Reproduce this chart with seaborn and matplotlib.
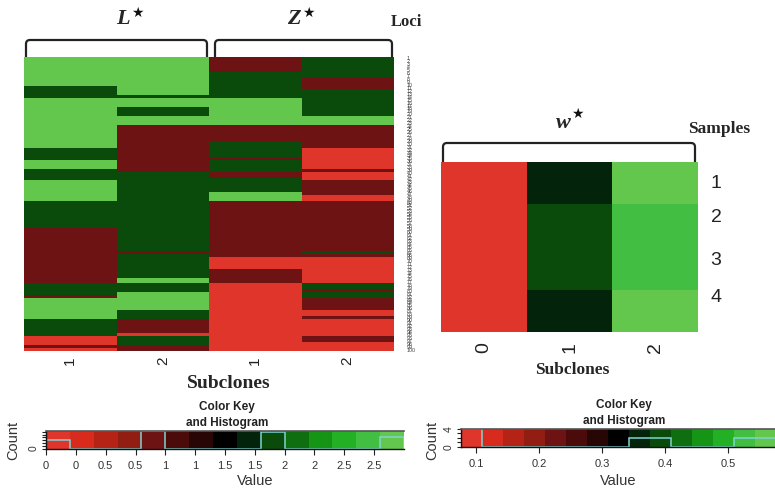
import numpy as np
import matplotlib
matplotlib.use("Agg")
import matplotlib.pyplot as plt
from matplotlib.colors import ListedColormap
from matplotlib.path import Path
from matplotlib.patches import PathPatch
import seaborn as sns

# ---- data -----------------------------------------------------------------
# Copy-number states per locus (top to bottom), stored as runs: states / lengths
L1_states = [3, 2, 3, 2, 3, 2, 3, 2, 1, 2, 1, 3, 2, 0, 1, 0]
L1_lengths = [10, 4, 17, 4, 3, 4, 7, 9, 19, 4, 1, 7, 6, 3, 1, 1]
L2_states = [3, 2, 3, 2, 3, 1, 2, 1, 2, 3, 2, 3, 2, 1, 0, 2, 1]
L2_lengths = [13, 1, 3, 3, 3, 16, 27, 1, 8, 2, 3, 6, 3, 5, 1, 3, 2]
Z1_states = [1, 2, 3, 1, 2, 1, 2, 1, 2, 3, 1, 0, 1, 0]
Z1_lengths = [5, 9, 9, 6, 5, 1, 4, 2, 5, 3, 19, 4, 5, 23]
Z2_states = [2, 1, 2, 3, 1, 0, 1, 0, 1, 0, 1, 2, 1, 0, 2, 1, 2, 1, 0, 1, 0, 1, 0]
Z2_lengths = [7, 4, 9, 3, 8, 7, 1, 3, 5, 2, 17, 1, 1, 9, 2, 1, 2, 4, 2, 1, 6, 2, 3]

loci_columns = ["1", "2", "1", "2"]
loci_labels = [str(i) for i in range(1, 101)]

# Subclone proportions per sample
w_subclones = ["0", "1", "2"]
w_samples = ["1", "2", "3", "4"]
w0 = [0.10, 0.10, 0.10, 0.10]
w1 = [0.35, 0.38, 0.38, 0.35]
w2 = [0.55, 0.52, 0.52, 0.55]

# 15-step red-black-green key palette
key_colors = ["#E0352A", "#D92A1E", "#B52317", "#921D12", "#6E1313",
              "#4B0B0B", "#290606", "#000000", "#03230A", "#0A4A0A",
              "#0F6F10", "#159416", "#23B024", "#42BF42", "#62C74C"]
loci_breaks = np.round(np.linspace(0.0, 3.0, 16), 10)
w_breaks = np.linspace(0.076, 0.576, 16)

loci_key_ticks = [0, 0.25, 0.5, 0.75, 1.0, 1.25, 1.5, 1.75, 2.0, 2.25, 2.5, 2.75]
loci_key_labels = ["0", "0", "0.5", "0.5", "1", "1", "1.5", "1.5", "2", "2", "2.5", "2.5"]
w_key_ticks = [0.1, 0.2, 0.3, 0.4, 0.5]
w_key_labels = ["0.1", "0.2", "0.3", "0.4", "0.5"]

# ---- figure ---------------------------------------------------------------
W, H = 775, 491
sns.set_theme(style="white")
plt.rcParams["font.family"] = ["Liberation Sans", "DejaVu Sans"]
fig = plt.figure(figsize=(W / 100, H / 100), dpi=100)
fig.patch.set_facecolor("white")

SERIF = ["Liberation Serif", "DejaVu Serif"]
STAR = ["DejaVu Sans"]


def rect(x0, y0, x1, y1):
    """Axes rectangle from pixel box (top-left origin)."""
    return [x0 / W, 1 - y1 / H, (x1 - x0) / W, (y1 - y0) / H]


def ftext(x, y, s, **kw):
    fig.text(x / W, 1 - y / H, s, ha="center", va="center", **kw)


def brace(x0, x1, ytop, ybot, r=4):
    pts = [(x0, ybot), (x0, ytop + r), (x0, ytop), (x0 + r, ytop),
           (x1 - r, ytop), (x1, ytop), (x1, ytop + r), (x1, ybot)]
    codes = [Path.MOVETO, Path.LINETO, Path.CURVE3, Path.CURVE3,
             Path.LINETO, Path.CURVE3, Path.CURVE3, Path.LINETO]
    verts = [(x / W, 1 - y / H) for x, y in pts]
    fig.add_artist(PathPatch(Path(verts, codes), fill=False, lw=1.6,
                             edgecolor="#222222", transform=fig.transFigure))


def bin_codes(values, breaks):
    # right-closed bins, as in R's hist()
    idx = np.searchsorted(breaks, np.asarray(values, float), side="left") - 1
    return np.clip(idx, 0, len(breaks) - 2)


cmap = ListedColormap(key_colors)

# ---- loci heatmap ---------------------------------------------------------
loci = np.column_stack([
    np.repeat(L1_states, L1_lengths),
    np.repeat(L2_states, L2_lengths),
    np.repeat(Z1_states, Z1_lengths),
    np.repeat(Z2_states, Z2_lengths),
])
loci_codes = bin_codes(loci, loci_breaks)

ax1 = fig.add_axes(rect(24, 57, 394, 351))
sns.heatmap(loci_codes, ax=ax1, cmap=cmap, vmin=-0.5, vmax=14.5, cbar=False,
            xticklabels=loci_columns, yticklabels=loci_labels)
ax1.yaxis.tick_right()
ax1.tick_params(axis="y", length=0, pad=9, labelsize=3.8, labelcolor="#444444",
                labelrotation=0)
ax1.tick_params(axis="x", length=0, pad=4, labelsize=11, labelrotation=90,
                labelcolor="#222222")
ax1.set_xlabel("")
ax1.set_ylabel("")

# ---- w heatmap ------------------------------------------------------------
w = np.column_stack([w0, w1, w2])
w_codes = bin_codes(w, w_breaks)
ax2 = fig.add_axes(rect(441, 162, 698, 332))
sns.heatmap(w_codes, ax=ax2, cmap=cmap, vmin=-0.5, vmax=14.5, cbar=False,
            xticklabels=w_subclones, yticklabels=w_samples)
ax2.yaxis.tick_right()
ax2.set_yticks([0.45, 1.25, 2.28, 3.15])
ax2.set_yticklabels(w_samples)
ax2.tick_params(axis="y", length=0, pad=9, labelsize=14, labelrotation=0,
                labelcolor="#222222")
ax2.tick_params(axis="x", length=0, pad=7, labelsize=14, labelrotation=90,
                labelcolor="#222222")
ax2.set_xlabel("")
ax2.set_ylabel("")

# ---- titles and braces ----------------------------------------------------
brace(26, 207, 40, 57)
brace(215, 392, 40, 57)
brace(443, 695, 143, 162)

ftext(123, 19, "L", family=SERIF, style="italic", weight="bold", fontsize=16)
ftext(137, 13, "★", family=STAR, fontsize=10, color="#111111")
ftext(294, 19, "Z", family=SERIF, style="italic", weight="bold", fontsize=16)
ftext(308, 13, "★", family=STAR, fontsize=10, color="#111111")
ftext(406, 22, "Loci", family=SERIF, weight="bold", fontsize=12)

ftext(563, 123, "w", family=SERIF, style="italic", weight="bold", fontsize=16)
ftext(577, 114, "★", family=STAR, fontsize=10, color="#111111")
ftext(719, 129, "Samples", family=SERIF, weight="bold", fontsize=12.5)

ftext(229, 384, "Subclones", family=SERIF, weight="bold", fontsize=14)
ftext(572, 370, "Subclones", family=SERIF, weight="bold", fontsize=12.5)


# ---- colour keys ----------------------------------------------------------
def color_key(box, breaks, counts, ymax, yticks, ylabels, xticks, xlabels,
              title_xy, count_x, value_x):
    ax = fig.add_axes(rect(*box))
    ax.bar(breaks[:-1], ymax, width=np.diff(breaks), align="edge",
           color=key_colors, linewidth=0)
    ax.stairs(counts, breaks, color="#7FD4D4", lw=1.1)
    ax.set_xlim(breaks[0], breaks[-1])
    ax.set_ylim(0, ymax)
    ax.set_xticks(xticks)
    ax.set_xticklabels(xlabels)
    ax.set_yticks(yticks)
    ax.set_yticklabels(ylabels, rotation=90, va="center")
    ax.tick_params(axis="x", direction="out", length=4, width=0.8, pad=5,
                   labelsize=8, labelcolor="#333333", bottom=True,
                   color="#222222")
    ax.tick_params(axis="y", direction="out", length=3, width=0.8, pad=2,
                   labelsize=7.5, labelcolor="#333333", left=True,
                   color="#222222")
    for s in ["left", "bottom"]:
        ax.spines[s].set_color("#111111")
        ax.spines[s].set_linewidth(1.0)
    ax.spines["top"].set_color("#555555")
    ax.spines["top"].set_linewidth(1.2)
    ax.spines["right"].set_visible(False)
    ftext(title_xy[0], title_xy[1] - 8, "Color Key", weight="bold",
          fontsize=8.5, color="#222222")
    ftext(title_xy[0], title_xy[1] + 8, "and Histogram", weight="bold",
          fontsize=8.5, color="#222222")
    ftext(count_x, 440, "Count", rotation=90, fontsize=10.5, color="#333333")
    ftext(value_x, 481, "Value", fontsize=10.5, color="#333333")
    return ax


loci_counts = np.bincount(loci_codes.ravel(), minlength=15)
color_key((46, 431, 404, 448.5), loci_breaks, loci_counts, loci_counts.max(),
          [0, 20, 40, 60, 80, 100, 120], ["0", "", "", "", "", "", ""],
          loci_key_ticks, loci_key_labels, (227, 415), 13, 255)

w_counts = np.bincount(w_codes.ravel(), minlength=15)
color_key((461, 429, 776, 446.7), w_breaks, w_counts, 4,
          [0, 1, 2, 3, 4], ["0", "", "", "", "4"],
          w_key_ticks, w_key_labels, (624, 413), 432, 618)

fig.savefig("out.png", dpi=100, facecolor="white")
